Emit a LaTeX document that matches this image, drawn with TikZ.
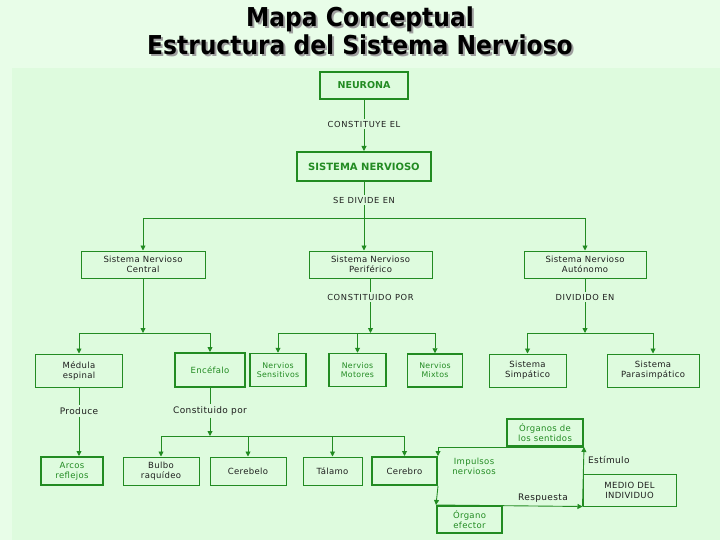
\documentclass[tikz,border=0pt]{standalone}
\usepackage{fontspec}
\setmainfont{DejaVu Sans}
\newfontfamily\titlefont{DejaVu Sans Condensed}
\newfontfamily\boxfont[LetterSpace=4]{DejaVu Sans}
\newfontfamily\capfont[LetterSpace=8]{DejaVu Sans}
\usetikzlibrary{arrows.meta,calc}
\definecolor{gc}{RGB}{34,139,34}
\definecolor{bgout}{RGB}{232,253,232}
\definecolor{bgin}{RGB}{222,251,222}
\definecolor{tk}{RGB}{30,30,30}
\newcommand{\shadowtitle}[1]{\makebox[0pt][l]{\hspace{2pt}\raisebox{-2pt}{\textcolor{gray!75}{#1}}}#1}
\tikzset{
  box/.style={draw=gc,line width=1pt,minimum width=#1,inner sep=1pt,align=center,font=\boxfont\fontsize{8.5}{10}\selectfont,text=tk},
  thick box/.style={line width=2pt},
  mid box/.style={line width=1.5pt},
  gtext/.style={text=gc},
  lab/.style={inner sep=2pt,font=\capfont\fontsize{8.3}{9}\selectfont,text=tk},
  slab/.style={inner sep=2pt,font=\boxfont\fontsize{9}{10}\selectfont,text=tk},
  conn/.style={draw=gc,line width=0.9pt},
  arr/.style={conn,-{Triangle[width=5pt,length=5pt]}},
}
\begin{document}
\begin{tikzpicture}[x=1pt,y=-1pt]
\useasboundingbox (0,0) rectangle (720,540);
\fill[bgout] (0,0) rectangle (720,540);
\fill[bgin] (12,68) rectangle (720,540);
% title
\node[text=black,align=center,font=\titlefont\bfseries\fontsize{26}{28}\selectfont] (title) at (360,32) {\shadowtitle{Mapa Conceptual}\\\shadowtitle{Estructura del Sistema Nervioso}};
% y levels
\coordinate (y124) at (0,124);
\coordinate (y200) at (0,200);
\coordinate (y218) at (0,218);
\coordinate (y297) at (0,297);
\coordinate (y333) at (0,333);
\coordinate (y411) at (0,411);
\coordinate (y436) at (0,436);
% boxes
\node[box=88pt,thick box,minimum height=27pt,gtext,font=\bfseries\fontsize{9.5}{10}\selectfont] (neurona) at (364,85.5) {NEURONA};
\node[box=134pt,thick box,minimum height=29pt,gtext,font=\bfseries\fontsize{10}{11}\selectfont] (sn) at (364,166.5) {SISTEMA NERVIOSO};
\node[box=124pt,minimum height=27pt] (snc) at (143,264.5) {Sistema Nervioso\\Central};
\node[box=123pt,minimum height=27pt] (snp) at (370.5,264.5) {Sistema Nervioso\\Periférico};
\node[box=122pt,minimum height=27pt] (sna) at (585,264.5) {Sistema Nervioso\\Autónomo};
\node[box=87pt,minimum height=33pt] (med) at (79,370.5) {Médula\\espinal};
\node[box=70pt,thick box,minimum height=34pt,gtext] (enc) at (210,370) {Encéfalo};
\node[box=56pt,mid box,minimum height=33pt,gtext,font=\boxfont\fontsize{7.8}{9}\selectfont] (nsen) at (278,370) {Nervios\\Sensitivos};
\node[box=57pt,mid box,minimum height=33pt,gtext,font=\boxfont\fontsize{7.8}{9}\selectfont] (nmot) at (357.5,370) {Nervios\\Motores};
\node[box=55pt,mid box,minimum height=33pt,gtext,font=\boxfont\fontsize{7.8}{9}\selectfont] (nmix) at (435,370.5) {Nervios\\Mixtos};
\node[box=77pt,minimum height=33pt] (simp) at (527.5,370.5) {Sistema\\Simpático};
\node[box=92pt,minimum height=33pt] (para) at (653,370.5) {Sistema\\Parasimpático};
\node[box=62pt,thick box,minimum height=28pt,gtext] (arcos) at (72,471) {Arcos\\reflejos};
\node[box=76pt,minimum height=28pt] (bulbo) at (161,471) {Bulbo\\raquídeo};
\node[box=76pt,minimum height=28pt] (cerebelo) at (248,471) {Cerebelo};
\node[box=59pt,minimum height=28pt] (talamo) at (332.5,471) {Tálamo};
\node[box=65pt,thick box,minimum height=28pt] (cerebro) at (404.5,471) {Cerebro};
\node[box=76pt,thick box,minimum height=27pt,gtext] (organos) at (545,432.5) {Órganos de\\los sentidos};
\node[box=65pt,thick box,minimum height=27pt,gtext] (efector) at (469.5,519.5) {Órgano\\efector};
\node[box=93pt,minimum height=32pt] (medio) at (629.5,490) {MEDIO DEL\\INDIVIDUO};
\node[inner sep=0pt,align=center,text=gc,font=\boxfont\fontsize{8.5}{10}\selectfont] (impulsos) at (474,466) {Impulsos\\nerviosos};
% labels
\node[lab] (l1) at (neurona.south |- y124) {CONSTITUYE EL};
\node[lab] (l2) at (sn.south |- y200) {SE DIVIDE EN};
\node[lab] (l3) at (snp.south |- y297) {CONSTITUIDO POR};
\node[lab] (l4) at (sna.south |- y297) {DIVIDIDO EN};
\node[slab] (l5) at (med.south |- y411) {Produce};
\node[slab] (l6) at (enc.south |- y411) {Constituido por};
\node[slab,anchor=west] (l7) at (586,460) {Estímulo};
\node[slab] (l8) at (543,498) {Respuesta};
% hub coordinates
\coordinate (h1) at (sn.south |- y218);
\coordinate (h2) at (snc.south |- y333);
\coordinate (h3) at (snp.south |- y333);
\coordinate (h4) at (sna.south |- y333);
\coordinate (h5) at (enc.south |- y436);
% connectors top
\draw[conn] (neurona.south) -- (l1.north);
\draw[arr] (l1.south) -- (sn.north);
\draw[conn] (sn.south) -- (l2.north);
\draw[arr] (l2.south) -- (l2.south |- snp.north);
\draw[conn] (h1 -| snc.north) -- (h1 -| sna.north);
\draw[arr] (h1 -| snc.north) -- (snc.north);
\draw[arr] (h1 -| sna.north) -- (sna.north);
% central
\draw[arr] (snc.south) -- (h2);
\draw[conn] (h2 -| med.north) -- (h2 -| enc.north);
\draw[arr] (h2 -| med.north) -- (med.north);
\draw[arr] (h2 -| enc.north) -- (enc.north);
% periferico
\draw[conn] (snp.south) -- (l3.north);
\draw[arr] (l3.south) -- (h3);
\draw[conn] (h3 -| nsen.north) -- (h3 -| nmix.north);
\draw[arr] (h3 -| nsen.north) -- (nsen.north);
\draw[arr] (h3 -| nmot.north) -- (nmot.north);
\draw[arr] (h3 -| nmix.north) -- (nmix.north);
% autonomo
\draw[conn] (sna.south) -- (l4.north);
\draw[arr] (l4.south) -- (h4);
\draw[conn] (h4 -| simp.north) -- (h4 -| para.north);
\draw[arr] (h4 -| simp.north) -- (simp.north);
\draw[arr] (h4 -| para.north) -- (para.north);
% medula
\draw[conn] (med.south) -- (l5.north);
\draw[arr] (l5.south) -- (l5.south |- arcos.north);
% encefalo
\draw[conn] (enc.south) -- (l6.north);
\draw[arr] (l6.south) -- (h5);
\draw[conn] (h5 -| bulbo.north) -- (h5 -| cerebro.north);
\draw[arr] (h5 -| bulbo.north) -- (bulbo.north);
\draw[arr] (h5 -| cerebelo.north) -- (cerebelo.north);
\draw[arr] (h5 -| talamo.north) -- (talamo.north);
\draw[arr] (h5 -| cerebro.north) -- (cerebro.north);
% loop
\draw[arr] (efector.north west) -- (medio.south west);
\draw[arr] (medio.south west) -- (organos.south east);
\draw[arr] (organos.south east) -- (cerebro.east |- organos.south) -- (cerebro.north east);
\draw[arr] (cerebro.south east) -- (efector.north west);
\end{tikzpicture}
\end{document}
